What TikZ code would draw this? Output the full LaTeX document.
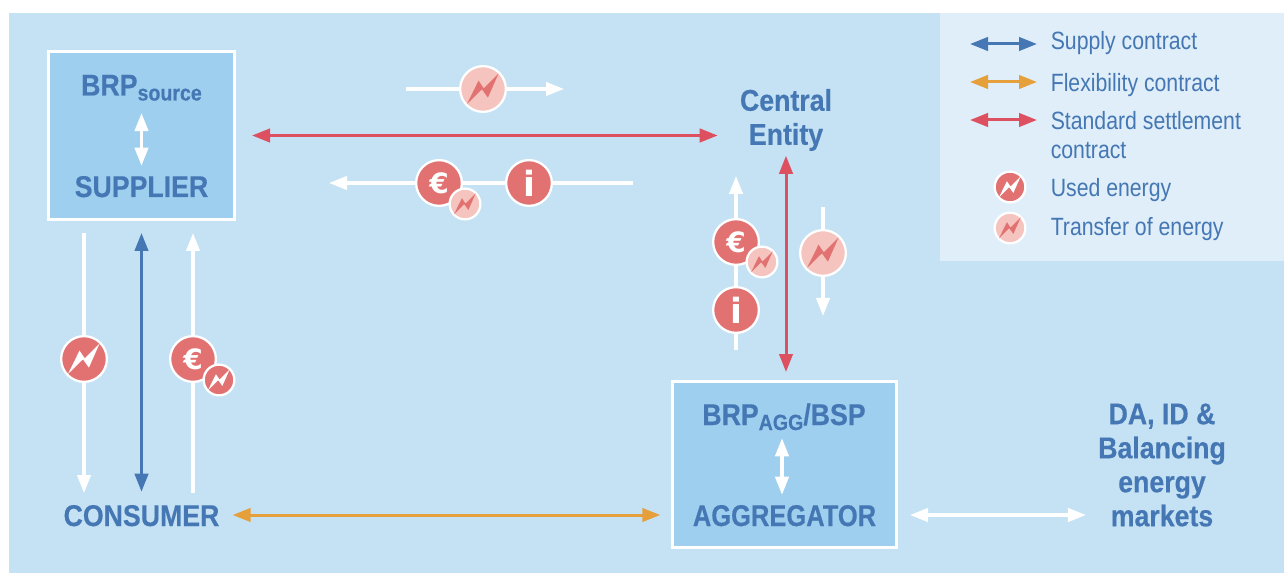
\documentclass[tikz,border=0pt]{standalone}
\usepackage{fontspec}
\setmainfont[FakeStretch=0.85]{Liberation Sans}
\newfontfamily\headfont[FakeStretch=0.89,BoldFeatures={FakeBold=0.4}]{Liberation Sans}
\newfontfamily\symfont{DejaVu Sans}
\usetikzlibrary{arrows.meta}
\definecolor{bgblue}{HTML}{C5E2F4}
\definecolor{legbg}{HTML}{DFEEF8}
\definecolor{boxblue}{HTML}{9FCFEF}
\definecolor{txtblue}{HTML}{4477B3}
\definecolor{redarrow}{HTML}{DC5060}
\definecolor{redcirc}{HTML}{E27272}
\definecolor{palecirc}{HTML}{F5C4BE}
\definecolor{orangearrow}{HTML}{E5A03C}
\newcommand{\subtxt}[1]{\raisebox{-3.75pt}{\fontsize{16.5pt}{18pt}\selectfont #1}}
\tikzset{
  headtip/.tip={Triangle[length=13.5pt,width=10pt]},
  conn/.style={line width=2.25pt,{headtip}-{headtip}},
  flow/.style={line width=2.4pt,white},
  flowend/.style={flow,-{headtip}},
  actorbox/.style={draw=white,line width=2.25pt,fill=boxblue,inner sep=0pt},
  heading/.style={font=\headfont\bfseries\fontsize{22.5pt}{25.5pt}\selectfont,text=txtblue,inner sep=0pt},
  caplabel/.style={heading,anchor=base,text height=16.5pt,text depth=0pt},
  multilabel/.style={heading,align=center},
  legtext/.style={font=\fontsize{18.75pt}{21pt}\selectfont,text=txtblue,anchor=base west,inner sep=0pt},
  circ/.style={circle,draw=white,line width=1.7pt,inner sep=0pt},
  symb/.style={text=white,font=\symfont\bfseries\fontsize{#1}{#1}\selectfont}
}
% name, x,y, radius px, fill colour, bolt colour
\newcommand{\energynode}[5]{%
  \node[circ,fill=#4,minimum size=#3*1.5pt-1.7pt] (#1) at (#2) {};
  \begin{scope}[shift={(#2)},scale=#3/23]
    \fill[#5] (-15.3,14.3) -- (-4.3,-8) -- (0.7,-0.7) -- (15,-15) -- (4.7,8.3) -- (-1,0.3) -- cycle;
  \end{scope}}
\newcommand{\euronode}[2]{\node[circ,fill=redcirc,minimum size=34.3pt,symb=21pt] (#1) at (#2) {€};}
\newcommand{\infonode}[2]{\node[circ,fill=redcirc,minimum size=34.3pt,symb=26pt] (#1) at (#2) {i};}
\begin{document}
\begin{tikzpicture}[x=0.75pt,y=-0.75pt]
\useasboundingbox (0,0) rectangle (1284,573);
\fill[white] (0,0) rectangle (1284,573);
\fill[bgblue] (9,13) rectangle (1284,573);
\fill[legbg] (940,13) rectangle (1284,261);

% actor boxes
\node[actorbox,minimum width=139.5pt,minimum height=126pt] (supbox) at (141.5,135.5) {};
\node[actorbox,minimum width=168pt,minimum height=124.5pt] (aggbox) at (784.5,464.5) {};

% labels
\node[caplabel] (brpsource) at (141.5,95.5) {BRP\subtxt{source}};
\node[caplabel] (supplier) at (141.5,197) {SUPPLIER};
\node[caplabel] (brpagg) at (784,425) {BRP\subtxt{AGG}/BSP};
\node[caplabel] (aggregator) at (784.5,526) {\scalebox{0.955}[1]{AGGREGATOR}};
\node[caplabel] (consumer) at (141.5,526) {CONSUMER};
\node[multilabel] (central) at (786,120) {Central\\Entity};
\node[multilabel] (markets) at (1162,465) {DA, ID \&\\Balancing\\energy\\markets};

% free ends
\coordinate (t1a) at (406,89);   \coordinate (t1b) at (564,89);
\coordinate (t2a) at (633,183);  \coordinate (t2b) at (329,183);
\coordinate (l1a) at (84,233);   \coordinate (l1b) at (84,493);
\coordinate (l2a) at (193,493);  \coordinate (l2b) at (193,233);
\coordinate (v1a) at (736,350);  \coordinate (v1b) at (736,176);
\coordinate (v2a) at (823,207);  \coordinate (v2b) at (823,316);
\coordinate (mkty) at (1000,515);
\coordinate (la1) at (970,44);   \coordinate (lb1) at (1037,44);
\coordinate (la2) at (970,82);   \coordinate (lb2) at (1037,82);
\coordinate (la3) at (970,120);  \coordinate (lb3) at (1037,120);

% circles
\energynode{etop}{483,89}{24}{palecirc}{redcirc}
\euronode{eurotop}{439,183}
\energynode{smalltop}{465,204}{16.5}{palecirc}{redcirc}
\infonode{infotop}{529,183}
\energynode{eleft}{84,359}{24}{redcirc}{white}
\euronode{euroleft}{193,359}
\energynode{smallleft}{219,380}{16.5}{redcirc}{white}
\euronode{euroright}{736,242}
\energynode{smallright}{762,262}{16.5}{palecirc}{redcirc}
\infonode{inforight}{736,310}
\energynode{eright}{823,253}{24}{palecirc}{redcirc}

% white flows
\draw[flow] (t1a) -- (etop);
\draw[flowend] (etop) -- (t1b);
\draw[flow] (t2a) -- (infotop);
\draw[flow] (infotop) -- (eurotop);
\draw[flowend] (eurotop) -- (t2b);
\draw[flow] (l1a) -- (eleft);
\draw[flowend] (eleft) -- (l1b);
\draw[flow] (l2a) -- (euroleft);
\draw[flowend] (euroleft) -- (l2b);
\draw[flow] (v1a) -- (inforight);
\draw[flow] (inforight) -- (euroright);
\draw[flowend] (euroright) -- (v1b);
\draw[flow] (v2a) -- (eright);
\draw[flowend] (eright) -- (v2b);

% contracts
\draw[conn,txtblue,shorten <=9pt,shorten >=9pt] (supbox.south) -- (consumer.north);
\draw[conn,redarrow,shorten <=12pt,shorten >=16.5pt] (supbox.east) -- (supbox.east -| central.west);
\draw[conn,redarrow,shorten <=3.4pt,shorten >=6pt] (central.south) -- (central.south |- aggbox.north);
\draw[conn,orangearrow,shorten <=9.7pt,shorten >=8pt] (consumer.east) -- (consumer.east -| aggbox.west);
\draw[conn,flow,shorten <=9pt,shorten >=9pt] (aggbox.east |- mkty) -- (markets.west |- mkty);
\draw[conn,flow,shorten <=13pt,shorten >=6.75pt] (brpsource.south) -- (supplier.north);
\draw[conn,flow,shorten <=9.75pt,shorten >=6.75pt] ([xshift=-1.5pt]brpagg.south) -- ([xshift=-1.5pt]brpagg.south |- aggregator.north);

% legend
\draw[conn,txtblue] (la1) -- (lb1);
\draw[conn,orangearrow] (la2) -- (lb2);
\draw[conn,redarrow] (la3) -- (lb3);
\energynode{legused}{1010,187}{16.5}{redcirc}{white}
\energynode{legtrans}{1010,228}{16.5}{palecirc}{redcirc}
\node[legtext] (ls) at (1050.5,50) {Supply contract};
\node[legtext] (lf) at (1050.5,92) {Flexibility contract};
\node[legtext] (lst) at (1050.5,130) {Standard settlement};
\node[legtext] (lc) at (1050.5,158.5) {contract};
\node[legtext] (lu) at (1050.5,197) {Used energy};
\node[legtext] (lt) at (1050.5,236) {Transfer of energy};
\end{tikzpicture}
\end{document}
